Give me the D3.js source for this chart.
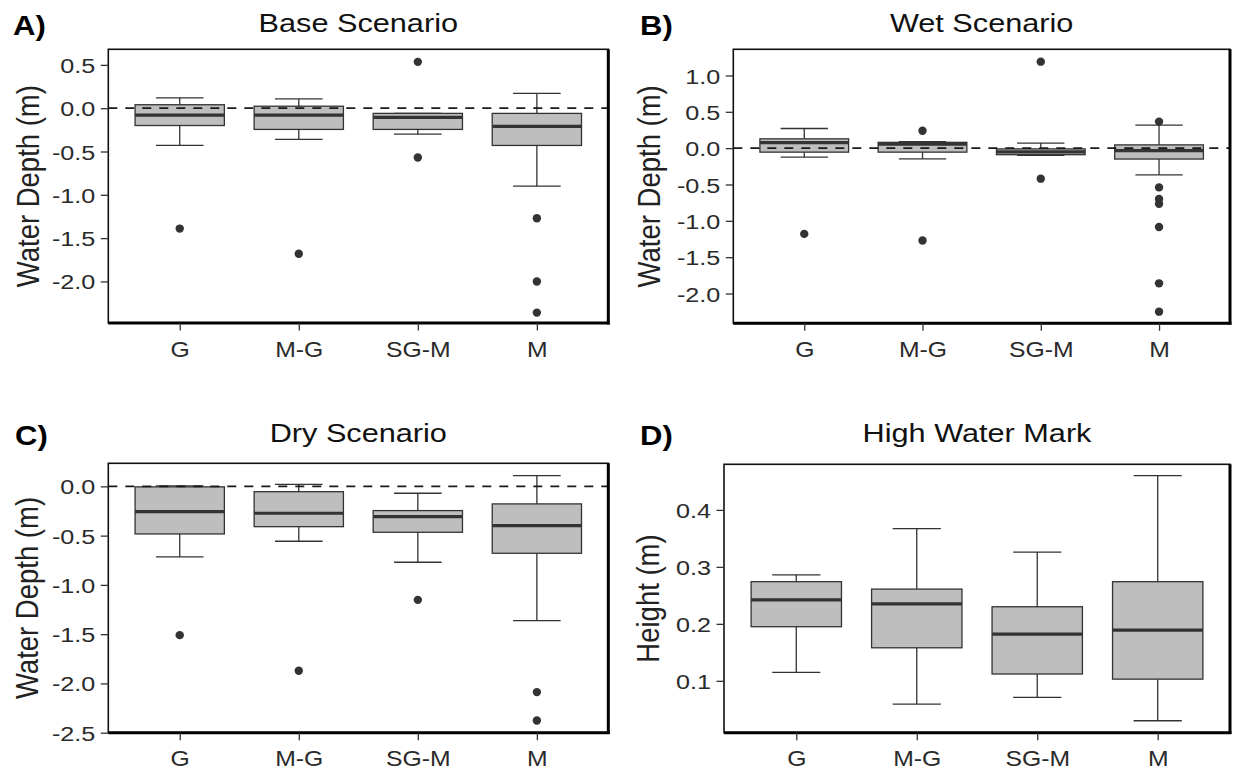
<!DOCTYPE html>
<html><head><meta charset="utf-8">
<script src="https://cdn.jsdelivr.net/npm/d3@7"></script>
<style>
body{margin:0;background:#fff}
svg{display:block}
text{font-family:"Liberation Sans",Arial,Helvetica,sans-serif}
</style>
</head><body>
<svg id="chart" width="1235" height="771"></svg>
<script>
const categories = ["G", "M-G", "SG-M", "M"];

// A) Base Scenario
const baseLow      = [-0.43, -0.36, -0.30, -0.90];
const baseQ1       = [-0.20, -0.245, -0.245, -0.43];
const baseMedian   = [-0.08, -0.08, -0.105, -0.21];
const baseQ3       = [0.04, 0.023, -0.06, -0.06];
const baseHigh     = [0.12, 0.107, -0.06, 0.17];
const baseOutliers = [[-1.39], [-1.68], [0.535, -0.57], [-1.27, -2.0, -2.36]];
const baseTicks    = [0.5, 0.0, -0.5, -1.0, -1.5, -2.0];
const baseTickLabels = ["0.5", "0.0", "-0.5", "-1.0", "-1.5", "-2.0"];
const baseDomain   = [-2.48, 0.68];

// B) Wet Scenario
const wetLow      = [-0.124, -0.147, -0.10, -0.367];
const wetQ1       = [-0.055, -0.055, -0.09, -0.15];
const wetMedian   = [0.075, 0.055, -0.05, -0.035];
const wetQ3       = [0.128, 0.08, -0.01, 0.045];
const wetHigh     = [0.27, 0.09, 0.07, 0.316];
const wetOutliers = [[-1.18], [0.24, -1.27], [1.19, -0.42], [0.365, -0.54, -0.70, -0.765, -1.085, -1.86, -2.25]];
const wetTicks    = [1.0, 0.5, 0.0, -0.5, -1.0, -1.5, -2.0];
const wetTickLabels = ["1.0", "0.5", "0.0", "-0.5", "-1.0", "-1.5", "-2.0"];
const wetDomain   = [-2.41, 1.36];

// C) Dry Scenario
const dryLow      = [-0.716, -0.557, -0.77, -1.362];
const dryQ1       = [-0.483, -0.409, -0.466, -0.679];
const dryMedian   = [-0.256, -0.273, -0.307, -0.398];
const dryQ3       = [-0.005, -0.054, -0.246, -0.178];
const dryHigh     = [0.005, 0.02, -0.07, 0.109];
const dryOutliers = [[-1.51], [-1.872], [-1.152], [-2.088, -2.376]];
const dryTicks    = [0.0, -0.5, -1.0, -1.5, -2.0, -2.5];
const dryTickLabels = ["0.0", "-0.5", "-1.0", "-1.5", "-2.0", "-2.5"];
const dryDomain   = [-2.5, 0.234];

// D) High Water Mark
const hwmLow      = [0.115, 0.059, 0.071, 0.030];
const hwmQ1       = [0.195, 0.158, 0.112, 0.103];
const hwmMedian   = [0.242, 0.235, 0.182, 0.189];
const hwmQ3       = [0.274, 0.261, 0.230, 0.274];
const hwmHigh     = [0.286, 0.367, 0.326, 0.460];
const hwmOutliers = [[], [], [], []];
const hwmTicks    = [0.1, 0.2, 0.3, 0.4];
const hwmTickLabels = ["0.1", "0.2", "0.3", "0.4"];
const hwmDomain   = [0.009, 0.48];

const panels = [
  {tag:"A)", title:"Base Scenario", ylab:"Water Depth (m)", low:baseLow, q1:baseQ1, med:baseMedian, q3:baseQ3, high:baseHigh, out:baseOutliers, ticks:baseTicks, labels:baseTickLabels, domain:baseDomain, hline:true,
   box:{l:108.3, r:608.3, t:49.3, b:323}, tagX:13, tagY:35, titleY:32.5, ylabX:27.5},
  {tag:"B)", title:"Wet Scenario", ylab:"Water Depth (m)", low:wetLow, q1:wetQ1, med:wetMedian, q3:wetQ3, high:wetHigh, out:wetOutliers, ticks:wetTicks, labels:wetTickLabels, domain:wetDomain, hline:true,
   box:{l:733.3, r:1230, t:49.3, b:323.3}, tagX:640, tagY:35, titleY:32.5, ylabX:649},
  {tag:"C)", title:"Dry Scenario", ylab:"Water Depth (m)", low:dryLow, q1:dryQ1, med:dryMedian, q3:dryQ3, high:dryHigh, out:dryOutliers, ticks:dryTicks, labels:dryTickLabels, domain:dryDomain, hline:true,
   box:{l:108.3, r:608.3, t:463.3, b:732.7}, tagX:15, tagY:445, titleY:442.5, ylabX:27},
  {tag:"D)", title:"High Water Mark", ylab:"Height (m)", low:hwmLow, q1:hwmQ1, med:hwmMedian, q3:hwmQ3, high:hwmHigh, out:hwmOutliers, ticks:hwmTicks, labels:hwmTickLabels, domain:hwmDomain, hline:false,
   box:{l:724, r:1230, t:464.3, b:732.7}, tagX:640, tagY:445, titleY:442.5, ylabX:648}
];

const svg = d3.select("#chart");
const INK = "#333333";
const FILL = "#bebebe";
const TICK_SX = 1.2;

function stretch(sel, sx) {
  sel.each(function() {
    const t = d3.select(this);
    const x = +t.attr("x") || 0;
    t.attr("x", x / sx).attr("transform", `scale(${sx},1)`);
  });
}

panels.forEach(p => {
  const B = p.box;
  const g = svg.append("g");
  const x = d3.scalePoint().domain(categories).range([B.l, B.r]).padding(0.6);
  const y = d3.scaleLinear().domain(p.domain).range([B.b, B.t]);
  const step = x.step();
  const bw = step * 0.75;
  const cw = step * 0.4;

  const data = categories.map((c, i) => ({c, low:p.low[i], q1:p.q1[i], med:p.med[i], q3:p.q3[i], high:p.high[i], out:p.out[i]}));

  const items = g.append("g").selectAll("g").data(data).join("g");
  // whiskers
  items.append("line").attr("x1", d => x(d.c)).attr("x2", d => x(d.c))
    .attr("y1", d => y(d.high)).attr("y2", d => y(d.q3)).attr("stroke", INK).attr("stroke-width", 1.3);
  items.append("line").attr("x1", d => x(d.c)).attr("x2", d => x(d.c))
    .attr("y1", d => y(d.q1)).attr("y2", d => y(d.low)).attr("stroke", INK).attr("stroke-width", 1.3);
  items.append("line").attr("x1", d => x(d.c) - cw/2).attr("x2", d => x(d.c) + cw/2)
    .attr("y1", d => y(d.high)).attr("y2", d => y(d.high)).attr("stroke", INK).attr("stroke-width", 1.3);
  items.append("line").attr("x1", d => x(d.c) - cw/2).attr("x2", d => x(d.c) + cw/2)
    .attr("y1", d => y(d.low)).attr("y2", d => y(d.low)).attr("stroke", INK).attr("stroke-width", 1.3);
  // box
  items.append("rect").attr("x", d => x(d.c) - bw/2).attr("width", bw)
    .attr("y", d => y(d.q3)).attr("height", d => Math.max(0.5, y(d.q1) - y(d.q3)))
    .attr("fill", FILL).attr("stroke", INK).attr("stroke-width", 1.3);
  // median
  items.append("line").attr("x1", d => x(d.c) - bw/2).attr("x2", d => x(d.c) + bw/2)
    .attr("y1", d => y(d.med)).attr("y2", d => y(d.med)).attr("stroke", INK).attr("stroke-width", 3.2);

  // dashed zero line
  if (p.hline) {
    g.append("line").attr("x1", B.l).attr("x2", B.r).attr("y1", y(0)).attr("y2", y(0))
      .attr("stroke", "#1a1a1a").attr("stroke-width", 1.7).attr("stroke-dasharray", "9,8");
  }

  // outliers
  items.selectAll("circle").data(d => d.out.map(v => ({c:d.c, v}))).join("circle")
    .attr("cx", d => x(d.c)).attr("cy", d => y(d.v)).attr("r", 4.2).attr("fill", INK);

  // border
  g.append("rect").attr("x", B.l).attr("y", B.t).attr("width", B.r - B.l).attr("height", B.b - B.t)
    .attr("fill", "none").attr("stroke", "#111").attr("stroke-width", 1.6);
  g.append("line").attr("x1", B.l).attr("x2", B.r + 1.4).attr("y1", B.b).attr("y2", B.b).attr("stroke", "#000").attr("stroke-width", 3);
  g.append("line").attr("x1", B.r).attr("x2", B.r).attr("y1", B.t).attr("y2", B.b + 1.4).attr("stroke", "#000").attr("stroke-width", 3);

  // axes
  const ya = g.append("g").attr("transform", `translate(${B.l},0)`)
    .call(d3.axisLeft(y).tickValues(p.ticks).tickFormat((d, i) => p.labels[i]).tickSize(7.5).tickPadding(5.5));
  ya.select(".domain").remove();
  ya.selectAll(".tick line").attr("stroke", INK).attr("stroke-width", 1.3);
  ya.selectAll(".tick text").attr("font-size", 21).attr("fill", "#2a2a2a").attr("font-family", null).attr("dy", "0.36em");
  stretch(ya.selectAll(".tick text"), TICK_SX);

  const xa = g.append("g").attr("transform", `translate(0,${B.b})`)
    .call(d3.axisBottom(x).tickSize(7.5).tickPadding(11));
  xa.select(".domain").remove();
  xa.selectAll(".tick line").attr("stroke", INK).attr("stroke-width", 1.3);
  xa.selectAll(".tick text").attr("font-size", 21.5).attr("fill", "#2a2a2a").attr("font-family", null);
  stretch(xa.selectAll(".tick text"), 1.15);

  // title
  const cx = (B.l + B.r) / 2;
  g.append("text").attr("x", cx / 1.18).attr("y", p.titleY).attr("transform", "scale(1.18,1)")
    .attr("text-anchor", "middle").attr("font-size", 26).attr("fill", "#111").text(p.title);

  // panel tag
  g.append("text").attr("x", p.tagX / 1.15).attr("y", p.tagY).attr("transform", "scale(1.15,1)")
    .attr("font-size", 27).attr("font-weight", "bold").attr("fill", "#000").text(p.tag);

  // y-axis title
  const cy = (B.t + B.b) / 2;
  g.append("text").attr("transform", `translate(${p.ylabX},${cy}) rotate(-90) scale(1,1.15)`)
    .attr("text-anchor", "middle").attr("dy", "0.35em").attr("font-size", 27.5).attr("fill", "#222").text(p.ylab);
});
</script>
</body></html>
